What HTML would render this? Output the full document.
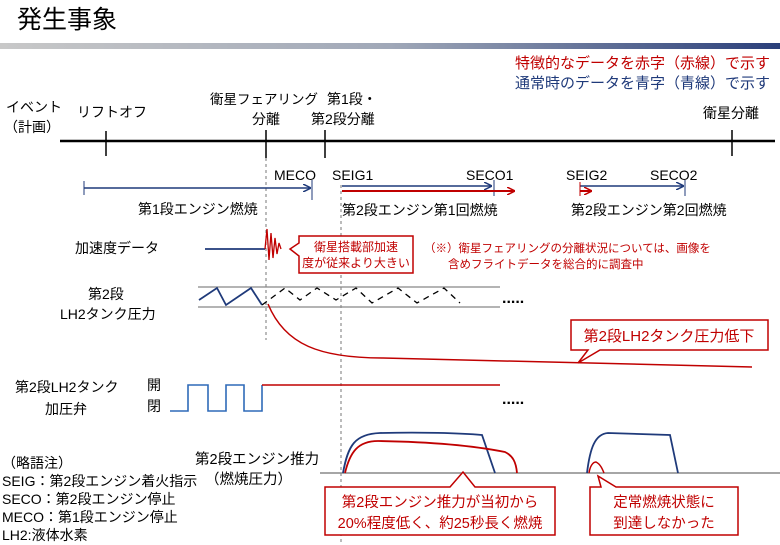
<!DOCTYPE html>
<html><head><meta charset="utf-8"><style>
body{margin:0;background:#fff}
svg{display:block}
text{font-family:"Liberation Sans","Noto Sans CJK JP",sans-serif;font-size:14px;fill:#000}
.r{fill:#c00000}.b{fill:#1f3a7a}
</style></head><body>
<svg width="780" height="545" viewBox="0 0 780 545">
<defs>
<linearGradient id="g" x1="0" x2="1"><stop offset="0" stop-color="#c8c8c8"/><stop offset="0.5" stop-color="#a0a8b8"/><stop offset="1" stop-color="#2a3f7a"/></linearGradient>
<marker id="ab" markerWidth="8" markerHeight="8" refX="7" refY="4" orient="auto" markerUnits="userSpaceOnUse"><path d="M0,0 L8,4 L0,8" fill="none" stroke="#1f3a7a" stroke-width="1.5"/></marker>
<marker id="ar" markerWidth="8" markerHeight="8" refX="7" refY="4" orient="auto" markerUnits="userSpaceOnUse"><path d="M0,0 L8,4 L0,8" fill="none" stroke="#c00000" stroke-width="1.5"/></marker>
</defs>
<text x="17" y="28" style="font-size:25px">発生事象</text>
<rect x="0" y="43" width="780" height="6" fill="url(#g)"/>
<text x="770" y="68" text-anchor="end" class="r" style="font-size:15px">特徴的なデータを赤字（赤線）で示す</text>
<text x="770" y="88" text-anchor="end" class="b" style="font-size:15px">通常時のデータを青字（青線）で示す</text>
<text x="6" y="112">イベント</text><text x="4" y="132">（計画）</text>
<text x="77" y="117">リフトオフ</text>
<text x="264" y="104" text-anchor="middle" style="font-size:13.5px">衛星フェアリング</text>
<text x="266" y="124" text-anchor="middle">分離</text>
<text x="327" y="104">第1段・</text><text x="311" y="124">第2段分離</text>
<text x="703" y="118">衛星分離</text>
<line x1="60" y1="141" x2="775" y2="141" stroke="#000" stroke-width="2.5"/>
<g stroke="#000" stroke-width="1.5"><line x1="106" y1="131" x2="106" y2="156"/><line x1="266" y1="130" x2="266" y2="158"/><line x1="325" y1="130" x2="325" y2="158"/><line x1="732" y1="130" x2="732" y2="156"/></g>
<g stroke="#777" stroke-width="1" stroke-dasharray="3,3"><line x1="266" y1="158" x2="266" y2="340"/><line x1="341" y1="185" x2="341" y2="545"/></g>
<text x="274" y="180">MECO</text><text x="332" y="180">SEIG1</text><text x="466" y="180">SECO1</text>
<text x="566" y="180">SEIG2</text><text x="650" y="180">SECO2</text>
<g stroke="#1f3a7a" stroke-width="1.5" fill="none">
<line x1="84" y1="188" x2="310" y2="188" marker-end="url(#ab)"/><line x1="84" y1="181" x2="84" y2="195" stroke-width="1"/><line x1="312" y1="180" x2="312" y2="200" stroke-width="1"/>
<line x1="342" y1="186" x2="491" y2="186" marker-end="url(#ab)"/><line x1="494" y1="180" x2="494" y2="196" stroke-width="1"/>
<line x1="580" y1="186" x2="683" y2="186" marker-end="url(#ab)"/><line x1="685" y1="180" x2="685" y2="196" stroke-width="1"/>
</g>
<g stroke="#c00000" stroke-width="2" fill="none">
<line x1="342" y1="191" x2="514" y2="191" marker-end="url(#ar)"/>
<line x1="580" y1="191" x2="591" y2="191" marker-end="url(#ar)"/>
</g>
<line x1="580" y1="182" x2="580" y2="196" stroke="#c00000" stroke-width="1"/>
<text x="138" y="214">第1段エンジン燃焼</text>
<text x="342" y="215">第2段エンジン第1回燃焼</text>
<text x="571" y="215">第2段エンジン第2回燃焼</text>
<text x="75" y="253">加速度データ</text>
<line x1="205" y1="249" x2="265" y2="249" stroke="#1f3a7a" stroke-width="1.8"/>
<path d="M265,249 L267,229 L269,260 L271,233 L273,258 L275,238 L277,254 L279,243 L281,249" fill="none" stroke="#c00000" stroke-width="1.3"/>
<path d="M299,236 H413 V273 H299 V256 L290,249 L299,243 Z" fill="#fff" stroke="#c00000" stroke-width="1.5"/>
<text x="356" y="251" text-anchor="middle" class="r" style="font-size:12px">衛星搭載部加速</text>
<text x="356" y="267" text-anchor="middle" class="r" style="font-size:12px">度が従来より大きい</text>
<text x="424" y="252" class="r" style="font-size:11.5px">（※）衛星フェアリングの分離状況については、画像を</text>
<text x="448" y="268" class="r" style="font-size:11.5px">含めフライトデータを総合的に調査中</text>
<text x="88" y="299">第2段</text><text x="60" y="319">LH2タンク圧力</text>
<g stroke="#888" stroke-width="1.2"><line x1="198" y1="287" x2="500" y2="287"/><line x1="198" y1="307" x2="500" y2="307"/></g>
<path d="M199,300 L217,288 L226,305 L251,288 L262,305" fill="none" stroke="#1f3a7a" stroke-width="1.8"/>
<path d="M262,305 L285,288 L300,300 L317,288 L336,300 L356,288 L372,303 L398,288 L417,303 L444,288 L460,303" fill="none" stroke="#000" stroke-width="1.3" stroke-dasharray="6,5"/>
<text x="502" y="303" style="font-size:16px;font-weight:bold">.....</text>
<path d="M268,304 C285,345 320,358 383,358 C480,360 600,363 752,367" fill="none" stroke="#c00000" stroke-width="1.5"/>
<path d="M571,320 H768 V350 H600 L578,363 L588,350 H571 Z" fill="#fff" stroke="#c00000" stroke-width="1.5"/>
<text x="669" y="341" text-anchor="middle" class="r" style="font-size:15px">第2段LH2タンク圧力低下</text>
<text x="15" y="392">第2段LH2タンク</text><text x="45" y="414">加圧弁</text>
<text x="147" y="390">開</text><text x="147" y="411">閉</text>
<path d="M170,411 H188 V385 H208 V411 H226 V385 H244 V411 H262 V385" fill="none" stroke="#2f6ab8" stroke-width="1.6"/>
<line x1="262" y1="385" x2="500" y2="385" stroke="#c00000" stroke-width="1.6"/>
<text x="502" y="404" style="font-size:16px;font-weight:bold">.....</text>
<line x1="320" y1="473" x2="780" y2="473" stroke="#888" stroke-width="1.5"/>
<path d="M343,473 C348,445 355,434 380,433 C420,432 460,433 482,435 L495,473" fill="none" stroke="#1f3a7a" stroke-width="1.8"/>
<path d="M345,473 C350,452 358,441 378,441 C440,442 480,447 505,452 C513,456 516,462 517,473" fill="none" stroke="#c00000" stroke-width="1.8"/>
<path d="M587,473 C590,448 595,434 608,433 L670,435 L678,473" fill="none" stroke="#1f3a7a" stroke-width="1.8"/>
<path d="M589,473 C590,466 593,462 596,462 C600,464 602,468 604,473" fill="none" stroke="#c00000" stroke-width="1.5"/>
<text x="195" y="464" style="font-size:14.5px">第2段エンジン推力</text>
<text x="205" y="484" style="font-size:14.5px">（燃焼圧力）</text>
<path d="M325,487 H450 L463,472 L475,487 H555 V535 H325 Z" fill="#fff" stroke="#c00000" stroke-width="1.5"/>
<text x="440" y="507" text-anchor="middle" class="r" style="font-size:14.5px">第2段エンジン推力が当初から</text>
<text x="440" y="528" text-anchor="middle" class="r" style="font-size:14.5px">20%程度低く、約25秒長く燃焼</text>
<path d="M590,487 H601 L598,476 L616,487 H738 V535 H590 Z" fill="#fff" stroke="#c00000" stroke-width="1.5"/>
<text x="664" y="507" text-anchor="middle" class="r" style="font-size:14.5px">定常燃焼状態に</text>
<text x="664" y="528" text-anchor="middle" class="r" style="font-size:14.5px">到達しなかった</text>
<g style="font-size:12.5px">
<text x="2" y="468">（略語注）</text>
<text x="2" y="486">SEIG：第2段エンジン着火指示</text>
<text x="2" y="504">SECO：第2段エンジン停止</text>
<text x="2" y="522">MECO：第1段エンジン停止</text>
<text x="2" y="540">LH2:液体水素</text>
</g>
</svg>
</body></html>
